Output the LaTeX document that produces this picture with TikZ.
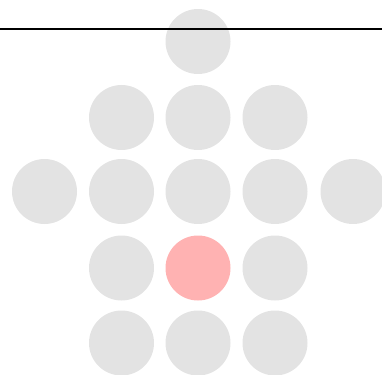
\documentclass[tikz,border=0pt]{standalone}
\tikzset{
  dot/.style={circle, fill=black!11, minimum size=65pt, inner sep=0pt},
  hitdot/.style={dot, fill=red!30}
}
\begin{document}
\begin{tikzpicture}[x=1pt, y=-1pt]
    \useasboundingbox (0,0) rectangle (382,374);
    \clip (0,0) rectangle (382,374);
    \node[dot] (top) at (198,41.5) {};

    \node[dot] (b1) at (121.5,117.5) {};
    \node[dot] (b2) at (198,117.5) {};
    \node[dot] (b3) at (275,117.5) {};

    \node[dot] (m0) at (44.5,191.5) {};
    \node[dot] (m1) at (121.5,191.5) {};
    \node[dot] (m2) at (198,191.5) {};
    \node[dot] (m3) at (275,191.5) {};
    \node[dot] (m4) at (353,191.5) {};

    \node[dot] (l1) at (121.5,268) {};
    \node[hitdot] (l2) at (198,268) {};
    \node[dot] (l3) at (275,268) {};

    \node[dot] (f1) at (121.5,343) {};
    \node[dot] (f2) at (198,343) {};
    \node[dot] (f3) at (275,343) {};

    \draw[line width=2pt] (0,29) -- (382,29);
\end{tikzpicture}
\end{document}
